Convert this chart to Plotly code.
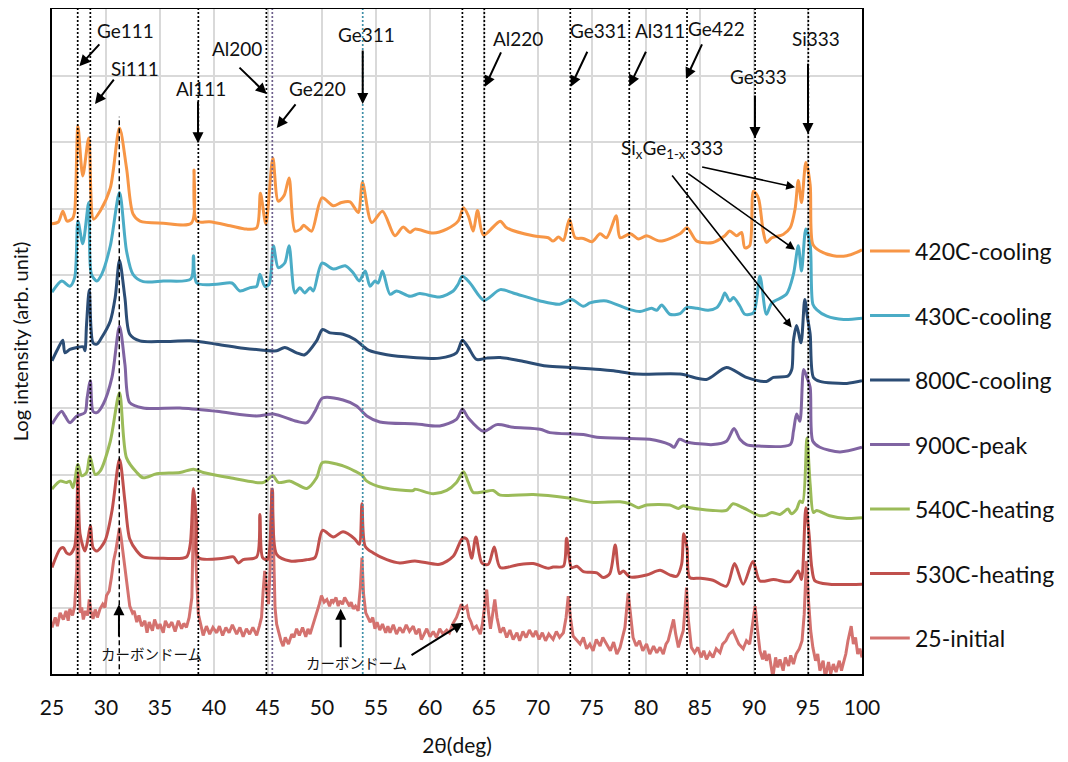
import plotly.graph_objects as go

# ---------------- data (2theta in deg, log10 intensity in decades, arb. offset) -------------
s420 = [(25.0,6.77),(25.6,6.80),(26.0,6.96),(26.4,6.81),(26.9,6.85),(27.1,6.96),(27.4,8.24),(27.85,7.49),
        (28.4,8.06),(28.85,6.84),(29.45,6.96),(30.4,7.31),(31.25,8.21),(31.9,7.61),(32.5,6.92),(33.15,6.81),
        (35.3,6.78),(37.9,6.78),(38.15,7.58),(38.4,6.81),(39.6,6.80),(41.5,6.74),(43.0,6.69),(43.95,6.71),
        (44.3,7.23),(44.8,6.77),(45.45,7.76),(45.95,7.11),(46.5,7.20),(46.95,7.46),(47.5,6.66),(48.0,6.69),
        (48.3,6.75),(48.6,6.71),(49.05,6.66),(50.0,7.16),(51.05,7.04),(51.8,7.09),(52.6,7.10),(53.35,6.94),
        (53.75,7.39),(54.6,6.79),(55.6,6.96),(56.75,6.59),(57.5,6.72),(58.15,6.64),(58.6,6.69),(60.3,6.63),
        (61.55,6.69),(62.6,6.81),(63.1,7.01),(63.55,6.89),(64.0,6.66),(64.4,6.97),(64.95,6.60),(66.5,6.81),
        (67.1,6.71),(69.55,6.59),(70.95,6.56),(71.4,6.51),(71.9,6.57),(72.35,6.52),(72.9,6.84),(73.45,6.56),
        (74.2,6.55),(75.0,6.50),(75.75,6.62),(76.35,6.56),(77.25,6.89),(77.6,6.56),(78.55,6.62),(79.3,6.54),
        (80.05,6.59),(81.3,6.51),(83.15,6.62),(83.8,6.71),(84.7,6.51),(86.2,6.49),(87.3,6.59),(87.75,6.66),
        (88.4,6.59),(88.85,6.64),(89.15,6.41),(89.6,6.44),(89.95,7.26),(90.4,7.16),(90.85,6.66),(91.15,6.49),
        (91.65,6.56),(92.7,6.61),(93.35,6.71),(93.8,6.99),(94.1,7.42),(94.4,7.09),(94.8,7.69),(95.2,7.36),
        (95.45,6.46),(96.1,6.36),(97.35,6.29),(98.6,6.29),(99.5,6.34),(100.0,6.38)]

s430 = [(25.0,5.74),(25.9,5.91),(26.65,5.83),(27.1,5.96),(27.4,6.81),(27.85,6.47),(28.4,7.09),(28.65,6.01),
        (29.15,5.91),(29.6,6.01),(30.4,6.44),(31.25,7.24),(31.9,6.36),(32.5,6.01),(33.45,5.90),(35.3,5.91),
        (37.85,5.94),(38.1,6.29),(38.4,5.88),(40.25,5.86),(41.65,5.88),(42.4,5.76),(43.35,5.81),(43.95,5.83),
        (44.25,6.01),(44.7,5.83),(45.1,5.86),(45.5,6.44),(45.95,6.11),(46.55,6.18),(46.95,6.44),(47.5,5.73),
        (47.95,5.81),(48.4,5.73),(48.9,5.81),(49.2,5.76),(50.0,6.18),(51.05,6.09),(52.15,6.14),(52.9,6.03),
        (53.45,5.91),(54.0,6.06),(54.45,5.83),(54.9,5.91),(55.2,5.88),(55.6,6.06),(56.3,5.71),(56.9,5.76),
        (58.15,5.68),(59.05,5.72),(60.9,5.67),(62.15,5.76),(62.6,5.86),(63.0,5.98),(63.7,5.88),(65.0,5.62),
        (66.5,5.78),(67.7,5.73),(70.2,5.61),(72.0,5.56),(73.1,5.63),(74.2,5.53),(74.8,5.58),(75.75,5.61),
        (76.35,5.61),(78.5,5.48),(79.45,5.45),(80.5,5.50),(81.0,5.47),(81.45,5.55),(82.2,5.41),(83.15,5.42),
        (83.75,5.51),(84.7,5.50),(85.75,5.47),(86.55,5.51),(87.0,5.62),(87.3,5.73),(87.75,5.61),(88.1,5.66),
        (88.7,5.53),(89.15,5.41),(89.95,5.43),(90.55,5.98),(91.15,5.41),(91.65,5.58),(93.0,5.71),(93.65,6.01),
        (94.1,6.44),(94.4,6.06),(94.8,6.69),(95.2,6.46),(95.45,5.56),(95.8,5.48),(96.75,5.38),(98.3,5.33),
        (100.0,5.35)]

s800 = [(25.0,4.71),(25.6,4.91),(26.0,5.02),(26.2,4.83),(26.65,4.88),(27.3,4.91),(27.9,4.92),(28.05,4.86),
        (28.2,5.26),(28.45,5.78),(28.8,4.98),(29.15,4.96),(29.6,5.06),(30.4,5.31),(30.85,5.66),(31.25,6.22),
        (31.75,5.66),(32.2,5.11),(33.15,5.01),(35.3,5.00),(37.8,5.01),(40.25,4.96),(42.7,4.90),(44.55,4.87),
        (45.8,4.86),(46.55,4.91),(47.65,4.83),(48.4,4.80),(49.5,5.01),(50.05,5.18),(50.75,5.13),(51.95,5.11),
        (53.05,5.03),(53.8,4.93),(54.3,4.87),(56.0,4.80),(58.45,4.76),(60.9,4.75),(62.45,4.83),(63.0,5.02),
        (63.55,4.91),(64.3,4.73),(65.25,4.75),(66.5,4.76),(68.35,4.71),(70.8,4.63),(72.95,4.61),(75.75,4.58),
        (77.0,4.56),(79.15,4.51),(83.15,4.51),(85.6,4.43),(87.45,4.61),(89.3,4.46),(91.15,4.40),(91.8,4.46),
        (93.15,4.48),(93.5,4.58),(93.65,5.01),(93.95,5.24),(94.35,4.98),(94.7,5.63),(94.95,5.36),(95.2,5.11),
        (95.5,4.46),(96.1,4.40),(98.6,4.37),(100.0,4.41)]

s900 = [(25.0,3.76),(25.9,3.95),(26.2,3.88),(26.65,3.78),(27.3,3.88),(28.05,3.93),(28.25,4.15),(28.55,4.41),
        (28.8,3.95),(29.15,3.93),(29.75,4.06),(30.55,4.46),(31.25,5.23),(31.75,4.66),(32.2,4.08),(33.45,4.00),
        (36.85,4.00),(40.25,3.95),(43.95,3.88),(45.5,3.91),(47.65,3.80),(48.6,3.78),(49.35,3.95),(50.05,4.15),
        (51.95,4.12),(53.2,4.03),(54.15,3.88),(55.35,3.79),(58.75,3.76),(60.9,3.73),(62.45,3.83),(63.0,3.98),
        (63.55,3.85),(64.95,3.65),(66.2,3.75),(67.7,3.71),(70.2,3.68),(71.1,3.63),(74.2,3.60),(75.45,3.56),
        (78.5,3.54),(80.35,3.53),(82.2,3.45),(82.6,3.41),(83.1,3.53),(83.75,3.49),(86.2,3.45),(87.45,3.50),
        (88.15,3.69),(88.7,3.53),(89.3,3.45),(90.2,3.43),(93.35,3.45),(93.65,3.65),(93.95,3.91),(94.25,3.80),
        (94.6,4.58),(94.9,4.46),(95.2,4.31),(95.45,3.50),(96.1,3.41),(97.95,3.34),(100.0,3.41)]

s540 = [(25.0,2.78),(25.75,2.90),(26.35,2.88),(26.65,2.90),(26.95,2.80),(27.4,3.15),(27.75,2.98),(28.2,3.03),
        (28.5,3.28),(29.0,3.00),(29.45,3.05),(30.4,3.50),(31.25,4.23),(31.9,3.25),(32.85,3.03),(33.45,2.95),
        (34.7,3.01),(36.85,3.03),(38.1,3.08),(39.0,3.03),(41.5,2.95),(44.55,2.88),(45.45,2.98),(45.95,2.88),
        (47.05,2.90),(48.6,2.79),(49.5,2.95),(50.05,3.18),(51.95,3.13),(53.05,3.05),(53.7,2.99),(54.15,2.90),
        (55.7,2.80),(58.45,2.76),(58.6,2.78),(60.3,2.71),(61.55,2.76),(62.45,2.88),(63.1,3.04),(63.55,2.88),
        (64.0,2.73),(64.95,2.74),(65.85,2.76),(66.5,2.69),(69.55,2.70),(72.65,2.65),(75.1,2.58),(77.6,2.59),
        (78.5,2.56),(79.3,2.50),(80.05,2.54),(82.2,2.54),(83.0,2.49),(83.45,2.53),(84.1,2.50),(86.2,2.46),
        (87.45,2.46),(88.05,2.56),(89.0,2.50),(90.55,2.38),(91.15,2.39),(91.65,2.43),(92.4,2.40),(93.15,2.48),
        (93.45,2.41),(93.95,2.48),(94.25,2.60),(94.5,2.58),(94.9,3.55),(95.2,2.85),(95.5,2.43),(95.8,2.46),
        (97.0,2.38),(98.6,2.34),(100.0,2.35)]

s530 = [(25.0,1.60),(25.75,1.88),(26.05,1.90),(26.35,1.82),(26.65,1.80),(27.1,1.92),(27.4,3.03),(27.6,2.10),
        (28.05,1.85),(28.35,2.05),(28.55,2.23),(28.8,1.90),(29.15,1.85),(29.9,2.00),(30.55,2.45),(31.25,3.23),
        (31.75,2.60),(32.2,2.03),(32.85,1.85),(33.45,1.76),(35.3,1.74),(37.45,1.76),(37.8,1.95),(38.1,2.79),
        (38.4,2.25),(38.55,1.75),(40.85,1.74),(41.8,1.76),(42.25,1.67),(42.7,1.72),(43.95,1.76),(44.25,2.40),
        (44.5,1.75),(44.95,1.72),(45.4,2.78),(45.8,1.80),(47.05,1.70),(48.6,1.72),(49.35,1.75),(50.05,2.16),
        (51.05,2.06),(51.95,2.14),(53.05,2.03),(53.45,1.95),(53.7,2.56),(54.0,1.92),(54.75,1.82),(56.0,1.72),
        (57.2,1.67),(58.6,1.70),(60.9,1.65),(62.15,1.77),(63.0,2.04),(63.4,2.03),(63.85,1.74),(64.25,2.06),
        (64.8,1.67),(65.4,1.65),(65.95,1.91),(66.5,1.60),(68.05,1.64),(69.55,1.66),(70.95,1.59),(71.4,1.61),
        (72.35,1.62),(72.65,2.04),(73.1,1.60),(73.6,1.62),(74.2,1.54),(75.45,1.52),(76.05,1.45),(76.65,1.51),
        (77.15,1.94),(77.55,1.51),(77.9,1.55),(78.5,1.46),(80.05,1.49),(81.3,1.56),(82.2,1.49),(82.85,1.47),
        (83.3,1.65),(83.5,2.11),(83.8,1.90),(84.05,1.45),(85.0,1.44),(86.2,1.41),(87.45,1.32),(88.2,1.66),
        (89.0,1.35),(89.9,1.69),(90.55,1.40),(91.8,1.42),(93.35,1.39),(94.1,1.55),(94.4,1.42),(94.8,2.50),
        (95.1,2.10),(95.35,1.60),(95.65,1.40),(97.0,1.35),(100.0,1.35)]

s25 = [(25.0,0.70),(25.3,0.85),(25.5,0.72),(25.75,0.92),(26.05,0.82),(26.3,0.95),(26.5,0.80),(26.65,0.98),
       (26.9,0.88),(27.1,1.02),(27.3,1.60),(27.4,2.85),(27.5,1.50),(27.6,0.92),(27.75,1.00),(27.9,0.82),
       (28.1,0.95),(28.3,0.88),(28.45,1.12),(28.6,0.95),(28.8,0.83),(29.0,0.97),(29.2,0.85),(29.45,0.98),
       (29.7,1.05),(29.9,1.00),(30.05,1.18),(30.3,1.25),(30.5,1.45),(30.7,1.70),(30.9,1.85),(31.1,2.05),
       (31.25,2.20),(31.4,2.05),(31.55,1.85),(31.75,1.58),(31.95,1.30),(32.2,1.02),(32.45,0.92),(32.6,0.95),
       (32.85,0.78),(33.05,0.88),(33.3,0.72),(33.6,0.80),(33.8,0.62),(34.0,0.78),(34.3,0.65),(34.5,0.82),
       (34.8,0.68),(35.0,0.75),(35.3,0.62),(35.5,0.80),(35.8,0.70),(36.1,0.78),(36.4,0.64),(36.7,0.80),
       (37.0,0.68),(37.2,0.76),(37.45,0.70),(37.7,0.85),(37.95,1.15),(38.1,2.40),(38.2,2.60),(38.35,1.60),
       (38.55,0.90),(38.8,0.70),(39.0,0.58),(39.3,0.72),(39.6,0.60),(39.9,0.70),(40.25,0.62),(40.5,0.72),
       (40.8,0.58),(41.1,0.70),(41.4,0.62),(41.7,0.74),(42.1,0.60),(42.4,0.70),(42.7,0.56),(43.0,0.68),
       (43.3,0.60),(43.6,0.70),(43.95,0.58),(44.2,0.72),(44.4,0.85),(44.55,1.25),(44.7,1.55),(44.85,1.30),
       (45.05,1.05),(45.2,1.60),(45.35,2.80),(45.5,2.00),(45.65,1.00),(45.8,0.75),(46.0,0.60),(46.2,0.50),
       (46.4,0.42),(46.6,0.55),(46.9,0.45),(47.2,0.60),(47.4,0.55),(47.65,0.68),(47.9,0.58),(48.2,0.70),
       (48.5,0.56),(48.7,0.68),(48.9,0.60),(49.2,0.75),(49.5,0.92),(49.75,1.05),(49.95,1.18),(50.2,1.08),
       (50.45,1.12),(50.7,1.02),(50.9,1.12),(51.05,1.08),(51.3,1.15),(51.5,1.02),(51.65,1.10),(51.9,1.05),
       (52.1,1.15),(52.3,1.10),(52.55,1.02),(52.7,1.08),(52.9,0.98),(53.1,1.02),(53.35,0.95),(53.55,1.30),
       (53.7,1.75),(53.85,1.20),(54.05,0.92),(54.25,0.85),(54.45,0.78),(54.7,0.85),(54.9,0.68),(55.1,0.78),
       (55.35,0.66),(55.6,0.75),(55.9,0.62),(56.1,0.72),(56.3,0.62),(56.6,0.74),(56.9,0.60),(57.2,0.70),
       (57.5,0.62),(57.8,0.74),(58.1,0.64),(58.45,0.72),(58.7,0.60),(59.0,0.68),(59.2,0.52),(59.4,0.58),
       (59.7,0.68),(60.0,0.56),(60.3,0.64),(60.6,0.55),(60.9,0.68),(61.2,0.60),(61.55,0.66),(61.8,0.62),
       (62.1,0.75),(62.45,0.85),(62.7,0.95),(62.9,1.05),(63.1,0.98),(63.4,1.02),(63.6,0.85),(63.8,0.78),
       (64.0,0.68),(64.3,0.72),(64.65,0.60),(64.85,0.75),(65.05,1.00),(65.25,1.27),(65.4,0.95),(65.6,0.68),
       (65.8,0.90),(66.0,1.12),(66.2,0.85),(66.5,0.62),(66.8,0.70),(67.1,0.55),(67.4,0.66),(67.7,0.52),
       (68.05,0.62),(68.3,0.50),(68.6,0.64),(68.9,0.55),(69.2,0.66),(69.55,0.56),(69.8,0.65),(70.1,0.52),
       (70.4,0.62),(70.7,0.50),(71.0,0.60),(71.4,0.52),(71.7,0.64),(72.0,0.55),(72.35,0.62),(72.6,0.85),
       (72.8,1.17),(73.0,0.85),(73.25,0.57),(73.5,0.52),(73.9,0.45),(74.2,0.55),(74.5,0.38),(74.8,0.45),
       (75.1,0.35),(75.4,0.52),(75.75,0.42),(76.0,0.55),(76.35,0.45),(76.7,0.35),(77.0,0.48),(77.3,0.30),
       (77.6,0.40),(77.85,0.58),(78.05,0.70),(78.35,1.22),(78.55,0.90),(78.8,0.55),(79.1,0.42),(79.4,0.50),
       (79.7,0.35),(80.05,0.45),(80.35,0.30),(80.7,0.42),(81.0,0.32),(81.3,0.40),(81.6,0.30),(81.85,0.45),
       (82.05,0.50),(82.3,0.65),(82.55,0.82),(82.75,0.60),(83.0,0.40),(83.25,0.55),(83.45,0.65),(83.6,0.95),
       (83.75,1.30),(83.9,0.85),(84.2,0.40),(84.5,0.32),(84.8,0.40),(85.1,0.25),(85.35,0.35),(85.6,0.22),
       (85.9,0.32),(86.2,0.25),(86.5,0.38),(86.85,0.32),(87.1,0.45),(87.4,0.50),(87.7,0.60),(88.05,0.65),
       (88.3,0.55),(88.6,0.45),(89.0,0.38),(89.3,0.50),(89.6,0.45),(89.85,0.70),(90.1,1.02),(90.3,0.70),
       (90.55,0.35),(90.8,0.22),(91.0,0.35),(91.15,0.20),(91.4,0.30),(91.75,-0.05),(92.0,0.25),(92.2,0.10),
       (92.4,0.22),(92.7,0.05),(92.9,0.25),(93.2,0.12),(93.4,0.28),(93.65,0.15),(93.9,0.30),(94.2,0.38),
       (94.45,0.50),(94.65,0.90),(94.85,1.70),(95.05,1.10),(95.25,0.65),(95.45,0.40),(95.7,0.20),(95.9,0.30),
       (96.1,0.05),(96.4,0.20),(96.6,-0.05),(96.9,0.18),(97.1,0.00),(97.35,0.15),(97.6,0.03),(97.9,0.20),
       (98.1,0.05),(98.3,0.18),(98.5,0.30),(98.7,0.50),(98.9,0.65),(99.0,0.72),(99.2,0.45),(99.4,0.55),
       (99.6,0.30),(99.8,0.38),(100.0,0.25)]

series_names = ["420C-cooling", "430C-cooling", "800C-cooling", "900C-peak",
                "540C-heating", "530C-heating", "25-initial"]
series_data = [s420, s430, s800, s900, s540, s530, s25]
series_colors = ["#F79646", "#4BACC6", "#2C4D75", "#8064A2", "#9BBB59", "#C0504D", "#D4726F"]

# reference (Bragg) line positions, deg
ref_lines = [27.38, 28.55, 38.55, 44.85, 45.40, 53.77, 63.0, 65.03, 72.99, 78.45, 83.8, 90.1, 95.03]
ref_colors = ["#000000"] * 4 + ["#6E5F8C", "#3F8FA8"] + ["#000000"] * 7
dome_line = 31.23   # carbon dome (dashed)

# peak labels: text, text position, arrow tail, arrow head (deg, decade)
peak_labels = [
    ("Ge111", 31.76, 9.67, 29.51, 9.49, 27.53, 9.14),
    ("Si111", 32.69, 9.11, 30.83, 8.96, 28.98, 8.57),
    ("Al111", 38.77, 8.80, 38.52, 8.63, 38.52, 7.98),
    ("Al200", 42.10, 9.40, 42.22, 9.14, 44.88, 8.72),
    ("Ge220", 49.54, 8.81, 47.66, 8.59, 45.81, 8.21),
    ("Ge311", 54.14, 9.62, 53.77, 9.40, 53.77, 8.57),
    ("Al220", 68.15, 9.56, 66.64, 9.37, 65.09, 8.83),
    ("Ge331", 75.56, 9.67, 74.63, 9.38, 73.03, 8.83),
    ("Al311", 81.30, 9.68, 80.06, 9.38, 78.45, 8.84),
    ("Ge422", 86.55, 9.70, 85.25, 9.49, 83.70, 8.95),
    ("Ge333", 90.37, 8.98, 90.09, 8.72, 90.09, 8.06),
    ("Si333", 95.74, 9.56, 95.00, 9.20, 95.00, 8.12),
]
sige_label = ("Si<sub>x</sub>Ge<sub>1-x</sub> 333", 82.38, 7.89)
sige_arrows = [(85.06, 7.63, 93.80, 7.32), (83.77, 7.54, 93.80, 6.38), (82.31, 7.52, 93.49, 5.21)]
dome_labels = [("カーボンドーム", 34.23, 0.31), ("カーボンドーム", 53.21, 0.18)]
dome_arrows = [(31.20, 0.54, 31.20, 1.05), (51.73, 0.38, 51.73, 0.98), (58.15, 0.27, 63.08, 0.77)]

x_ticks = [25, 30, 35, 40, 45, 50, 55, 60, 65, 70, 75, 80, 85, 90, 95, 100]

# ---------------- figure ----------------
fig = go.Figure()
for name, data, col in zip(series_names[::-1], series_data[::-1], series_colors[::-1]):
    xs = [p[0] for p in data]
    ys = [p[1] for p in data]
    noisy = name == "25-initial"
    fig.add_trace(go.Scatter(
        x=xs, y=ys, mode="lines", name=name, showlegend=False,
        line=dict(color=col, width=3, shape="linear" if noisy else "spline",
                  smoothing=None if noisy else 0.8),
        hoverinfo="skip"))

shapes = []
for xv, c in zip(ref_lines, ref_colors):
    shapes.append(dict(type="line", xref="x", yref="paper", x0=xv, x1=xv, y0=0, y1=1,
                       line=dict(color=c, width=1.7, dash="2px,2px"), layer="above"))
shapes.append(dict(type="line", xref="x", yref="y", x0=dome_line, x1=dome_line, y0=-0.05, y1=8.38,
                   line=dict(color="#000000", width=1.4, dash="5px,3px"), layer="above"))

# legend-like labels on the right
leg_top, leg_step = 0.636, 0.097
for i, (name, col) in enumerate(zip(series_names, series_colors)):
    yp = leg_top - i * leg_step
    shapes.append(dict(type="line", xref="paper", yref="paper", x0=1.0099, x1=1.059, y0=yp, y1=yp,
                       line=dict(color=col, width=3)))

annotations = []
for i, name in enumerate(series_names):
    yp = leg_top - i * leg_step
    annotations.append(dict(text=name, xref="paper", yref="paper", x=1.063, y=yp, xanchor="left",
                            yanchor="middle", showarrow=False,
                            font=dict(family="Lato", size=23, color="#111111")))

for txt, tx, ty, ax_, ay_, hx, hy in peak_labels:
    annotations.append(dict(text=txt, x=tx, y=ty, xref="x", yref="y", showarrow=False,
                            font=dict(family="Lato", size=19, color="#111111")))
    annotations.append(dict(text="", x=hx, y=hy, ax=ax_, ay=ay_, xref="x", yref="y",
                            axref="x", ayref="y", showarrow=True, arrowhead=2, arrowsize=1.1,
                            arrowwidth=2, arrowcolor="#000000"))

annotations.append(dict(text=sige_label[0], x=sige_label[1], y=sige_label[2], xref="x", yref="y",
                        showarrow=False, font=dict(family="Lato", size=19, color="#111111")))
for ax_, ay_, hx, hy in sige_arrows:
    annotations.append(dict(text="", x=hx, y=hy, ax=ax_, ay=ay_, xref="x", yref="y",
                            axref="x", ayref="y", showarrow=True, arrowhead=2, arrowsize=1.1,
                            arrowwidth=1.6, arrowcolor="#000000"))

for txt, tx, ty in dome_labels:
    annotations.append(dict(text=txt, x=tx, y=ty, xref="x", yref="y", showarrow=False,
                            font=dict(family="Noto Sans CJK JP", size=14.5, color="#111111")))
for ax_, ay_, hx, hy in dome_arrows:
    annotations.append(dict(text="", x=hx, y=hy, ax=ax_, ay=ay_, xref="x", yref="y",
                            axref="x", ayref="y", showarrow=True, arrowhead=2, arrowsize=1.1,
                            arrowwidth=2, arrowcolor="#000000"))

# page has an 8px body margin, so the figure is sized to the remaining viewport
fig.update_layout(
    width=1060, height=754,
    margin=dict(l=44, r=206, t=1, b=88),
    paper_bgcolor="white", plot_bgcolor="white",
    shapes=shapes, annotations=annotations,
    font=dict(family="Lato", color="#111111"),
    xaxis=dict(range=[25, 100], tickvals=x_ticks, ticktext=[str(v) for v in x_ticks],
               showgrid=True, gridcolor="#D9D9D9", gridwidth=1.5, zeroline=False, automargin=False,
               showline=True, mirror=True, linecolor="#000000", linewidth=2,
               ticks="", ticklabelstandoff=14, tickfont=dict(family="Lato", size=21, color="#111111"),
               title=dict(text="2θ(deg)", font=dict(family="Lato", size=21, color="#111111"), standoff=20)),
    yaxis=dict(range=[0, 10], dtick=1, showgrid=True, gridcolor="#D9D9D9", gridwidth=1.5,
               zeroline=False, showticklabels=False, ticks="", automargin=False,
               showline=True, mirror=True, linecolor="#000000", linewidth=2,
               title=dict(text="Log intensity (arb. unit)", font=dict(family="Lato", size=20, color="#111111"),
                          standoff=17)),
)

fig.write_html("out.html")
